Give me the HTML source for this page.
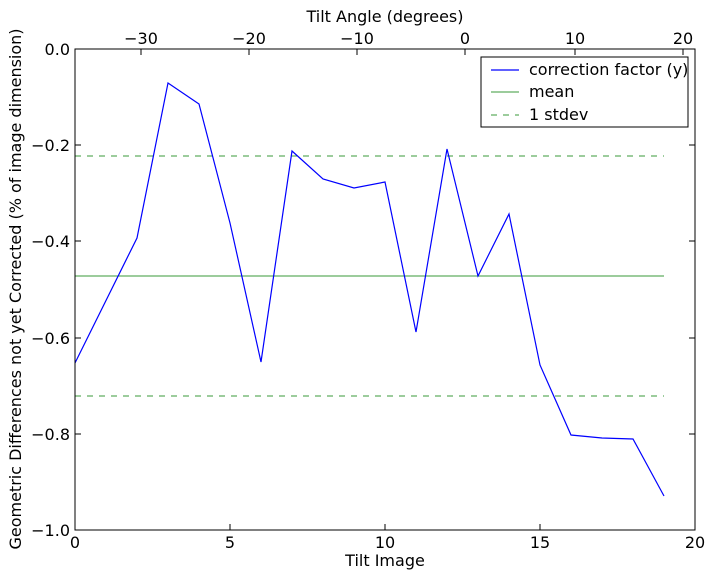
<!DOCTYPE html>
<html><head><meta charset="utf-8"><style>
html,body{margin:0;padding:0;background:#fff;}
svg text{font-family:"DejaVu Sans","Liberation Sans",sans-serif;font-size:16px;fill:#000;}
</style></head><body>
<svg width="714" height="579" xmlns="http://www.w3.org/2000/svg">
<rect width="714" height="579" fill="#fff"/>
<line x1="75" y1="276" x2="664" y2="276" stroke="#3a9a3a" stroke-width="1"/>
<line x1="75" y1="156" x2="664" y2="156" stroke="#3a9a3a" stroke-width="1" stroke-dasharray="6,6"/>
<line x1="75" y1="396" x2="664" y2="396" stroke="#3a9a3a" stroke-width="1" stroke-dasharray="6,6"/>
<polyline fill="none" stroke="#0000ff" stroke-width="1.2" points="75,363 137,238 168,83 199,104 230,223 261,362 292,151 323,179 354,188 385,182 416,332 447,149 478,276 509,214 540,365 571,435 602,438 633,439 664,496"/>
<rect x="75" y="49" width="620" height="481" fill="none" stroke="#000" stroke-width="1"/>
<g stroke="#000" stroke-width="1">
<line x1="75" y1="530" x2="75" y2="524"/><line x1="230" y1="530" x2="230" y2="524"/><line x1="385" y1="530" x2="385" y2="524"/><line x1="540" y1="530" x2="540" y2="524"/><line x1="695" y1="530" x2="695" y2="524"/>
<line x1="141" y1="49" x2="141" y2="55"/><line x1="249" y1="49" x2="249" y2="55"/><line x1="357" y1="49" x2="357" y2="55"/><line x1="465" y1="49" x2="465" y2="55"/><line x1="575" y1="49" x2="575" y2="55"/><line x1="683" y1="49" x2="683" y2="55"/>
<line x1="75" y1="49" x2="81" y2="49"/><line x1="75" y1="145" x2="81" y2="145"/><line x1="75" y1="241" x2="81" y2="241"/><line x1="75" y1="338" x2="81" y2="338"/><line x1="75" y1="434" x2="81" y2="434"/><line x1="75" y1="530" x2="81" y2="530"/>
<line x1="695" y1="49" x2="689" y2="49"/><line x1="695" y1="145" x2="689" y2="145"/><line x1="695" y1="241" x2="689" y2="241"/><line x1="695" y1="338" x2="689" y2="338"/><line x1="695" y1="434" x2="689" y2="434"/><line x1="695" y1="530" x2="689" y2="530"/>
</g>
<g text-anchor="middle">
<text x="75" y="548">0</text><text x="230" y="548">5</text><text x="385" y="548">10</text><text x="540" y="548">15</text><text x="695" y="548">20</text>
<text x="385" y="566">Tilt Image</text>
<text x="141" y="44">−30</text><text x="249" y="44">−20</text><text x="357" y="44">−10</text><text x="465" y="44">0</text><text x="575" y="44">10</text><text x="683" y="44">20</text>
<text x="385" y="22">Tilt Angle (degrees)</text>
</g>
<g text-anchor="end">
<text x="70" y="55">0.0</text><text x="70" y="151">−0.2</text><text x="70" y="247">−0.4</text><text x="70" y="344">−0.6</text><text x="70" y="440">−0.8</text><text x="70" y="536">−1.0</text>
</g>
<text transform="translate(21,289) rotate(-90)" text-anchor="middle">Geometric Differences not yet Corrected (% of image dimension)</text>
<rect x="481" y="57" width="207" height="70" fill="#fff" stroke="#000" stroke-width="1"/>
<line x1="491" y1="70" x2="519" y2="70" stroke="#0000ff" stroke-width="1.2"/>
<text x="529" y="75">correction factor (y)</text>
<line x1="491" y1="92" x2="519" y2="92" stroke="#3a9a3a"/>
<text x="529" y="97">mean</text>
<line x1="491" y1="115" x2="519" y2="115" stroke="#3a9a3a" stroke-dasharray="6,6"/>
<text x="529" y="120">1 stdev</text>
</svg>
</body></html>
